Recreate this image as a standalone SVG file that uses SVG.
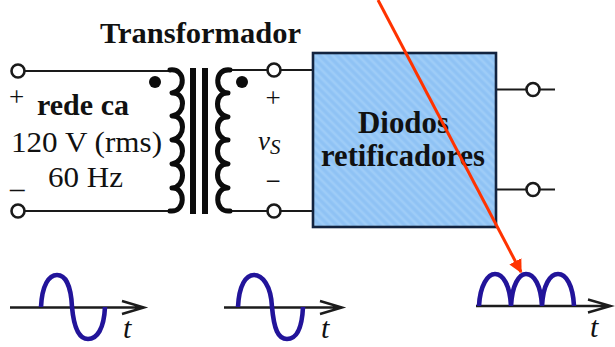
<svg xmlns="http://www.w3.org/2000/svg" width="615" height="347" viewBox="0 0 615 347">
<style>
text{font-family:"Liberation Serif","Times New Roman",serif;fill:#111}
.b{font-weight:bold}
.w{fill:none;stroke:#1a1a1a;stroke-width:2.2}
.c{fill:#fff;stroke:#1a1a1a;stroke-width:2.6}
.coil{fill:none;stroke:#0c0c0c;stroke-width:5;stroke-linecap:round;stroke-linejoin:round}
.core{stroke:#0c0c0c;stroke-width:6}
.wave{fill:none;stroke:#22149a;stroke-width:4.6}
.axis{fill:none;stroke:#1c1c1c;stroke-width:2.4}
.i{font-style:italic}
</style>
<defs>
<pattern id="tex" width="6" height="6" patternUnits="userSpaceOnUse" patternTransform="rotate(45)">
<rect width="6" height="6" fill="#94c6f6"/>
<line x1="0" y1="2" x2="6" y2="2" stroke="#a2cef8" stroke-width="1.5"/>
<line x1="0" y1="5" x2="6" y2="5" stroke="#8abff2" stroke-width="1"/>
</pattern>
<marker id="red" viewBox="0 0 10 10" refX="9" refY="5" markerWidth="4.500" markerHeight="4.500" orient="auto"><path d="M0 0L10 5L0 10z" fill="#ff3300"/></marker>
</defs>
<g id="connectors">
<path class="w" d="M24 71H170M24 211H170M230 70H313M230 211H313M496 89.500H555M496 189.500H555"/>
</g>
<g id="title"><text class="b" x="100" y="43" font-size="29" textLength="201" lengthAdjust="spacingAndGlyphs">Transformador</text></g>
<g id="source">
<circle class="c" cx="18" cy="71" r="6.500"/>
<circle class="c" cx="18" cy="211" r="6.500"/>
<text x="9" y="106" font-size="27">+</text>
<text x="10" y="188" font-size="29">_</text>
<text class="b" x="37" y="115" font-size="29" textLength="92" lengthAdjust="spacingAndGlyphs">rede ca</text>
<text x="11" y="152" font-size="29" textLength="151" lengthAdjust="spacingAndGlyphs">120 V (rms)</text>
<text x="48" y="187" font-size="29" textLength="75" lengthAdjust="spacingAndGlyphs">60 Hz</text>
</g>
<g id="transformer">
<path class="coil" d="M170 70C186 68 186 91 172 93C186 92 186 114 172 116C186 115 186 138 172 140C186 139 186 162 172 164C186 163 186 187 172 188C186 187 186 213 170 211"/>
<path class="coil" d="M230 70C214 68 214 92 228 93C214 92 214 115 228 117C214 116 214 139 228 140C214 139 214 162 228 164C214 163 214 186 228 188C214 187 214 213 230 211"/>
<line class="core" x1="193" y1="68" x2="193" y2="214"/>
<line class="core" x1="205" y1="68" x2="205" y2="214"/>
<circle cx="155" cy="82" r="6" fill="#0c0c0c"/>
<circle cx="242" cy="82" r="6" fill="#0c0c0c"/>
</g>
<g id="secondary">
<circle class="c" cx="274" cy="70" r="6.500"/>
<circle class="c" cx="274" cy="211" r="6.500"/>
<text x="273" y="107" font-size="27" text-anchor="middle">+</text>
<text x="273" y="190" font-size="27" text-anchor="middle">−</text>
<text class="i" x="258" y="150" font-size="27">v</text>
<text class="i" x="270" y="154" font-size="21">S</text>
</g>
<g id="rectifier">
<rect x="313" y="53" width="183" height="174" fill="url(#tex)" stroke="#12233f" stroke-width="2.600"/>
<text class="b" x="358" y="133" font-size="32" textLength="91" lengthAdjust="spacingAndGlyphs">Diodos</text>
<text class="b" x="321" y="166" font-size="32" textLength="164" lengthAdjust="spacingAndGlyphs">retificadores</text>
</g>
<g id="outputs">
<circle class="c" cx="533" cy="89.500" r="6.500"/>
<circle class="c" cx="533" cy="189.500" r="6.500"/>
</g>
<g id="wave-in">
<path class="axis" d="M10 307.500H144M122 301L144 307.500L122 314"/>
<path class="wave" d="M41 307C42 285 49 275 57 275C65 275 71 285 72 307C74 329 80 339 88 339C97 339 104 329 105 307"/>
<text class="i" x="123" y="338" font-size="30">t</text>
</g>
<g id="wave-secondary">
<path class="axis" d="M224 307.500H342M320 301L342 307.500L320 314"/>
<path class="wave" d="M238 307C239 285 246 275 254 275C262 275 271 285 272 307C274 329 278 339 287 339C296 339 302 329 303 307"/>
<text class="i" x="321" y="338" font-size="30">t</text>
</g>
<g id="wave-output">
<path class="axis" d="M476 306H611M588 299.500L611 306L588 312.500"/>
<path class="wave" d="M479 306C480 285 488 274 495 274C503 274 510 285 511 306C512 285 519 274 526 274C534 274 541 285 542 306C543 285 550 274 558 274C566 274 573 285 574 306"/>
<text class="i" x="590" y="337" font-size="30">t</text>
</g>
<g id="pointer">
<line x1="378" y1="0" x2="521" y2="272" stroke="#ff3300" stroke-width="3" marker-end="url(#red)"/>
</g>
</svg>
